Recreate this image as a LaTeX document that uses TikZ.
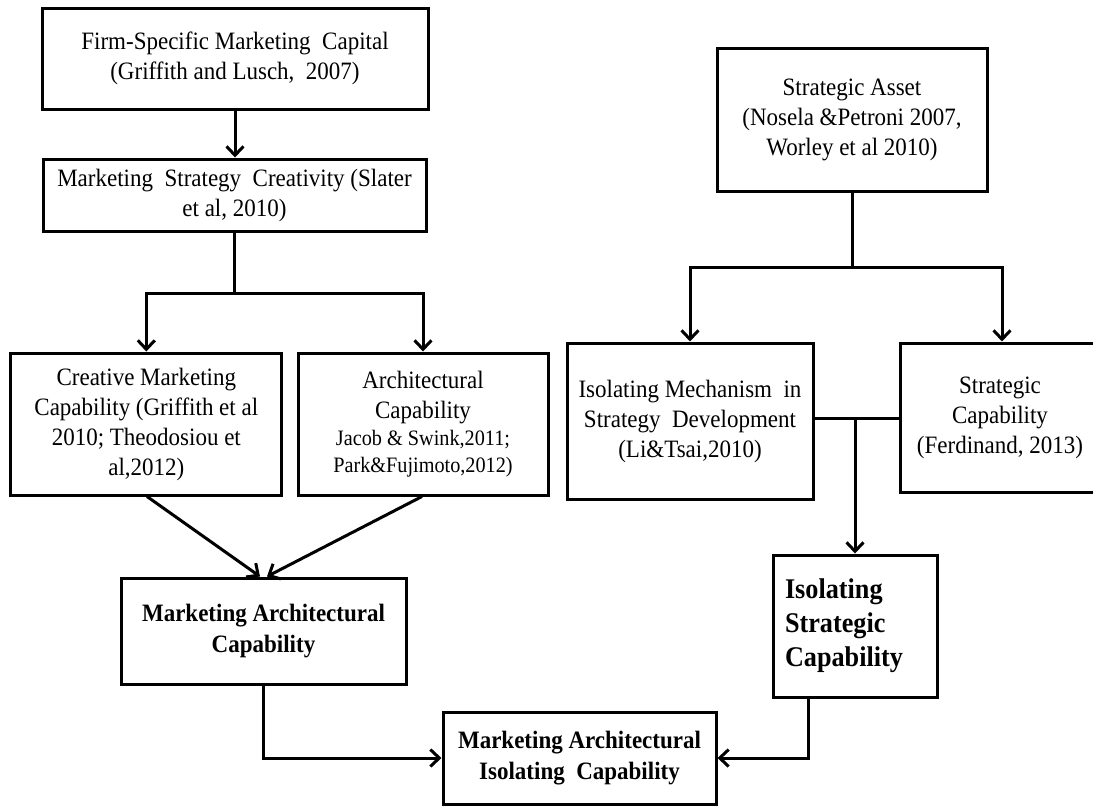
\documentclass[tikz,border=0pt]{standalone}
\usepackage{fontspec}
\setmainfont{Liberation Serif}[FakeStretch=0.92]
\usetikzlibrary{arrows.meta}
\begin{document}
\begin{tikzpicture}[x=1pt,y=-1pt,
  box/.style={draw,line width=3pt,rectangle,inner sep=0pt,align=center,
    font=\fontsize{25}{30}\selectfont},
  bbox/.style={box,font=\fontsize{25}{31}\selectfont\bfseries},
  conn/.style={line width=3pt},
  arr/.style={conn,-{Straight Barb[length=9pt,width=17pt]}}]
\clip (0,0) rectangle (1093,806);
\fill[white] (0,0) rectangle (1093,806);
% left column
\node[box,minimum width=386pt,minimum height=101pt] (b1) at (235,58.5)
  {Firm-Specific Marketing\ \ Capital\\(Griffith and Lusch,\ \ 2007)};
\node[box,minimum width=383pt,minimum height=72pt] (b2) at (234.5,195)
  {Marketing\ \ Strategy\ \ Creativity (Slater\\et al, 2010)};
\node[box,minimum width=271pt,minimum height=142pt] (cm) at (146.3,424)
  {Creative Marketing\\Capability (Griffith et al\\2010; Theodosiou et\\al,2012)};
\node[box,minimum width=250pt,minimum height=142pt] (ac) at (423,424)
  {Architectural\\Capability\\[-3pt]{\fontsize{22}{26}\selectfont Jacob \& Swink,2011;}\\[-3pt]{\fontsize{22}{26}\selectfont Park\&Fujimoto,2012)}};
\node[bbox,minimum width=285pt,minimum height=106pt] (mac) at (263.5,631)
  {Marketing Architectural\\Capability};
\node[bbox,minimum width=273pt,minimum height=92pt] (maic) at (579.5,758)
  {Marketing Architectural\\Isolating\ \ Capability};
% right column
\node[box,minimum width=270pt,minimum height=143pt] (sa) at (852,119.5)
  {Strategic Asset\\(Nosela \&Petroni 2007,\\Worley et al 2010)};
\node[box,minimum width=246pt,minimum height=156pt] (im) at (690,421)
  {Isolating Mechanism\ \ in\\Strategy\ \ Development\\(Li\&Tsai,2010)};
\node[box,minimum width=200pt,minimum height=149pt] (sc) at (1000,417.5)
  {Strategic\\Capability\\(Ferdinand, 2013)};
\node[box,minimum width=164pt,minimum height=142pt,text width=140pt,align=left,
  font=\fontsize{28.5}{34}\selectfont\bfseries] (isc) at (855,626)
  {Isolating\\Strategic\\Capability};
% junctions
\coordinate (j1) at (234.5,293);
\coordinate (j2) at (852,267);
\coordinate (j3) at (855,418);
% connectors left
\draw[arr] (b1.south) -- (b1.south |- b2.north);
\draw[conn] (b2.south) -- (j1);
\draw[conn,line cap=rect] (cm.north |- j1) -- (ac.north |- j1);
\draw[arr] (cm.north |- j1) -- (cm.north);
\draw[arr] (ac.north |- j1) -- (ac.north);
\draw[arr] ([xshift=0.7pt]cm.south) -- ([xshift=-3.5pt]mac.north);
\draw[arr] ([xshift=-1pt]ac.south) -- ([xshift=3.5pt]mac.north);
\draw[arr] (mac.south) |- (maic.west);
% connectors right
\draw[conn] (sa.south) -- (j2);
\draw[conn,line cap=rect] (im.north |- j2) -- ([xshift=2pt]sc.north |- j2);
\draw[arr] (im.north |- j2) -- (im.north);
\draw[arr] ([xshift=2pt]sc.north |- j2) -- ([xshift=2pt]sc.north);
\draw[conn] (im.east |- j3) -- (sc.west |- j3);
\draw[arr] (j3) -- (isc.north);
\draw[arr] ([xshift=-47pt]isc.south) |- (maic.east);
\end{tikzpicture}
\end{document}
